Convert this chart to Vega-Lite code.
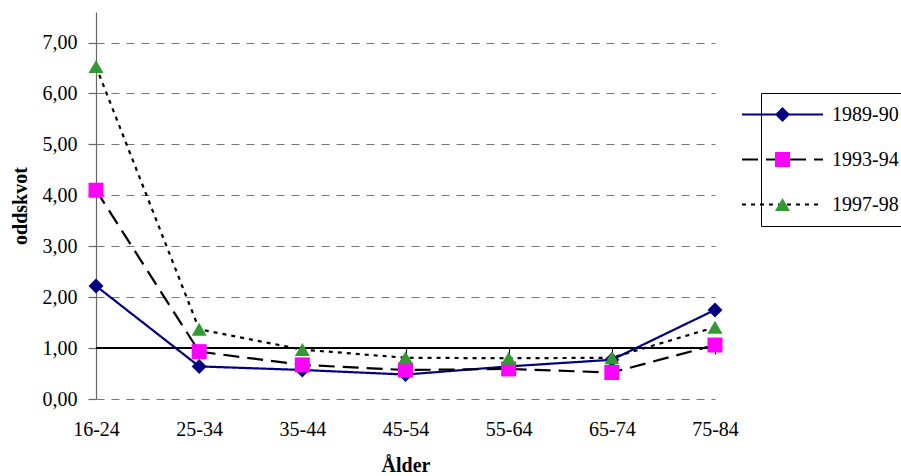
{
  "$schema": "https://vega.github.io/schema/vega-lite/v6.json",
  "autosize": "none",
  "width": 619,
  "height": 387,
  "padding": {"left": 96, "top": 12, "right": 186, "bottom": 77},
  "background": "white",
  "config": {
    "view": {"stroke": null},
    "font": "Liberation Serif",
    "axis": {"labelFont": "Liberation Serif", "titleFont": "Liberation Serif", "labelColor": "black", "titleColor": "black"},
    "legend": {"labelFont": "Liberation Serif", "labelColor": "black"}
  },
  "data": {
    "values": [
      {"alder": "16-24", "period": "1989-90", "oddskvot": 2.22},
      {"alder": "25-34", "period": "1989-90", "oddskvot": 0.64},
      {"alder": "35-44", "period": "1989-90", "oddskvot": 0.57},
      {"alder": "45-54", "period": "1989-90", "oddskvot": 0.48},
      {"alder": "55-64", "period": "1989-90", "oddskvot": 0.64},
      {"alder": "65-74", "period": "1989-90", "oddskvot": 0.77},
      {"alder": "75-84", "period": "1989-90", "oddskvot": 1.75},
      {"alder": "16-24", "period": "1993-94", "oddskvot": 4.10},
      {"alder": "25-34", "period": "1993-94", "oddskvot": 0.93},
      {"alder": "35-44", "period": "1993-94", "oddskvot": 0.67},
      {"alder": "45-54", "period": "1993-94", "oddskvot": 0.57},
      {"alder": "55-64", "period": "1993-94", "oddskvot": 0.59},
      {"alder": "65-74", "period": "1993-94", "oddskvot": 0.52},
      {"alder": "75-84", "period": "1993-94", "oddskvot": 1.06},
      {"alder": "16-24", "period": "1997-98", "oddskvot": 6.53},
      {"alder": "25-34", "period": "1997-98", "oddskvot": 1.37},
      {"alder": "35-44", "period": "1997-98", "oddskvot": 0.97},
      {"alder": "45-54", "period": "1997-98", "oddskvot": 0.81},
      {"alder": "55-64", "period": "1997-98", "oddskvot": 0.80},
      {"alder": "65-74", "period": "1997-98", "oddskvot": 0.81},
      {"alder": "75-84", "period": "1997-98", "oddskvot": 1.41}
    ]
  },
  "layer": [
    {
      "mark": {"type": "rule", "color": "black", "strokeWidth": 1.2},
      "encoding": {"y": {"datum": 1, "type": "quantitative"}}
    },
    {
      "mark": {"type": "line", "strokeJoin": "miter"},
      "encoding": {
        "x": {
          "field": "alder", "type": "ordinal",
          "scale": {"type": "point", "padding": 0},
          "axis": {"orient": "bottom", "offset": -51, "labels": false, "title": null, "grid": false,
                   "domain": false, "ticks": true, "tickColor": "black", "tickSize": 6, "tickWidth": 1}
        },
        "y": {
          "field": "oddskvot", "type": "quantitative",
          "scale": {"domain": [0, 7.6], "nice": false, "zero": true}
        },
        "stroke": {
          "field": "period", "type": "nominal",
          "scale": {"range": ["#000080", "#000000", "#000000"]},
          "legend": {"orient": "none", "legendX": 665, "legendY": 81, "title": null, "padding": 11.5,
                     "strokeColor": "black", "symbolType": "M-5.4,0H5.4", "symbolSize": 225,
                     "symbolStrokeWidth": 2.2, "labelFontSize": 20, "labelOffset": 39.5, "rowPadding": 25,
                     "zindex": 1}
        },
        "strokeDash": {
          "field": "period", "type": "nominal",
          "scale": {"range": [[1, 0], [16, 8], [4, 5]]},
          "legend": {"orient": "none", "legendX": 665, "legendY": 81, "title": null, "padding": 11.5,
                     "strokeColor": "black", "symbolType": "M-5.4,0H5.4", "symbolSize": 225,
                     "symbolStrokeWidth": 2.2, "labelFontSize": 20, "labelOffset": 39.5, "rowPadding": 25,
                     "zindex": 1}
        },
        "strokeWidth": {"value": 2.2}
      }
    },
    {
      "mark": {"type": "point", "filled": true, "opacity": 1, "strokeWidth": 0},
      "encoding": {
        "x": {
          "field": "alder", "type": "ordinal",
          "scale": {"type": "point", "padding": 0},
          "axis": {"orient": "bottom", "title": "Ålder", "titleFontSize": 20, "titleFontWeight": "bold",
                   "titlePadding": 16, "labelFontSize": 20, "labelAngle": 0, "labelPadding": 20,
                   "domain": false, "ticks": false, "grid": false}
        },
        "y": {
          "field": "oddskvot", "type": "quantitative",
          "scale": {"domain": [0, 7.6], "nice": false, "zero": true},
          "axis": {"values": [0, 1, 2, 3, 4, 5, 6, 7], "title": "oddskvot", "titleFontSize": 20,
                   "titleFontWeight": "bold", "titlePadding": 12,
                   "labelFontSize": 20, "labelPadding": 11, "labelExpr": "replace(format(datum.value, '.2f'), '.', ',')",
                   "domain": true, "domainColor": "#666666", "domainWidth": 1.2,
                   "ticks": true, "tickSize": 8, "tickColor": "#666666", "tickWidth": 1.2,
                   "grid": true, "gridColor": "#777777", "gridDash": [8, 7], "gridWidth": 1.2}
        },
        "fill": {
          "field": "period", "type": "nominal",
          "scale": {"domain": ["1989-90", "1993-94", "1997-98"], "range": ["#000080", "#FF00FF", "#339933"]},
          "legend": {"orient": "none", "legendX": 665, "legendY": 81, "title": null, "padding": 11.5,
                     "symbolSize": 225, "symbolStrokeWidth": 0, "labelFontSize": 20, "labelExpr": "''",
                     "rowPadding": 25, "zindex": 2}
        },
        "shape": {
          "field": "period", "type": "nominal",
          "scale": {"domain": ["1989-90", "1993-94", "1997-98"], "range": ["diamond", "square", "triangle-up"]},
          "legend": {"orient": "none", "legendX": 665, "legendY": 81, "title": null, "padding": 11.5,
                     "symbolSize": 225, "symbolStrokeWidth": 0, "labelFontSize": 20, "labelExpr": "''",
                     "rowPadding": 25, "zindex": 2}
        },
        "size": {"value": 225}
      }
    }
  ],
  "resolve": {"axis": {"x": "independent"}}
}
